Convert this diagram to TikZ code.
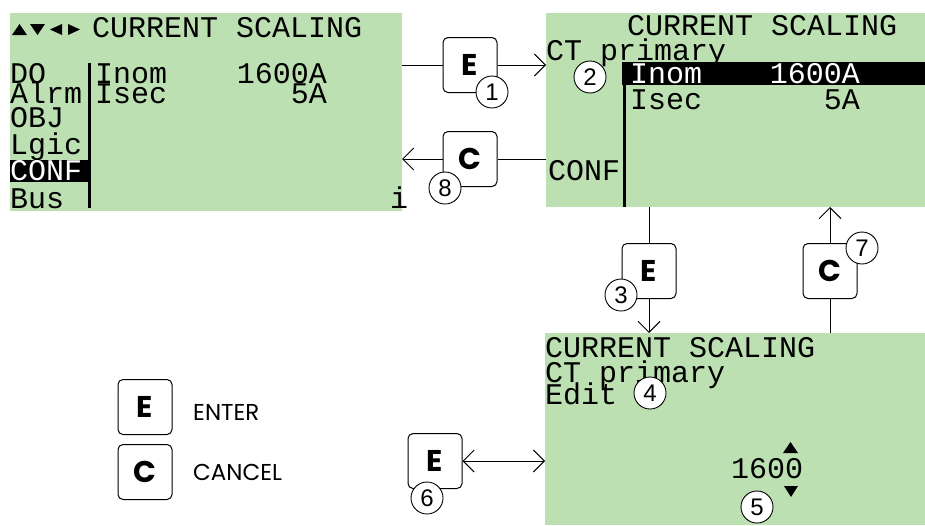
\documentclass[tikz,border=0pt]{standalone}
\usepackage{fontspec}
\usetikzlibrary{arrows.meta}
\newfontfamily\lcd{Liberation Mono}
\newfontfamily\keyfont{Poppins}
\newfontfamily\numfont{Liberation Sans}
\definecolor{lcdgreen}{RGB}{188,224,178}
\begin{document}
\begin{tikzpicture}[x=1pt,y=-1pt,
  screen/.style={fill=lcdgreen, draw=none, anchor=north west, inner sep=0, outer sep=0},
  lcdtxt/.style={font=\lcd\fontsize{30}{30}\selectfont, inner sep=0, anchor=base west},
  lcdtxtr/.style={lcdtxt, anchor=base east},
  keybox/.style={draw, line width=1pt, rounded corners=5pt, minimum width=54pt, minimum height=55pt, inner sep=0, fill=white, font=\keyfont\bfseries\fontsize{30}{30}\selectfont},
  num/.style={circle, draw, fill=white, line width=0.9pt, minimum size=32pt, inner sep=0, font=\numfont\fontsize{24}{24}\selectfont},
  legend/.style={font=\keyfont\fontsize{23}{23}\selectfont, inner sep=0, anchor=west},
  conn/.style={line width=1pt},
  arr/.style={conn, -{Straight Barb[length=11pt,width=22pt]}},
  darr/.style={conn, {Straight Barb[length=11pt,width=22pt]}-{Straight Barb[length=11pt,width=22pt]}},
]
\useasboundingbox (0,0) rectangle (925,525);
\fill[white] (0,0) rectangle (925,525);

% ---------- screen 1 ----------
\node[screen, minimum width=392pt, minimum height=198pt] (s1) at (10,13) {};
\fill (12,35) -- (19.5,24) -- (27,35) -- cycle;
\fill (30,24) -- (45,24) -- (37.5,35) -- cycle;
\fill (62,24) -- (62,35) -- (50,29.5) -- cycle;
\fill (68,24) -- (68,35) -- (80,29.5) -- cycle;
\node[lcdtxt] (s1title) at (92,37) {CURRENT SCALING};
\node[lcdtxt] (s1do) at (10,83) {DO};
\node[lcdtxt] (s1alrm) at (10,103) {Alrm};
\node[lcdtxt] (s1obj) at (10,127) {OBJ};
\node[lcdtxt] (s1lgic) at (10,154) {Lgic};
\fill (10,160) rectangle (88,182);
\node[lcdtxt, text=white] (s1conf) at (10,180) {CONF};
\node[lcdtxt] (s1bus) at (10,208) {Bus};
\draw[line width=3pt] (89,63) -- (89,208);
\node[lcdtxt] (s1inom) at (95,83) {Inom};
\node[lcdtxtr] (s1inomv) at (327,83) {1600A};
\node[lcdtxt] (s1isec) at (95,103) {Isec};
\node[lcdtxtr] (s1isecv) at (327,103) {5A};
\node[lcdtxt] (s1i) at (390,208) {i};

% ---------- screen 2 ----------
\node[screen, minimum width=379pt, minimum height=194pt] (s2) at (546,13) {};
\node[lcdtxt] (s2title) at (627,35) {CURRENT SCALING};
\node[lcdtxt] (s2ct) at (546,60) {CT primary};
\fill (622,62) rectangle (925,85);
\draw[line width=3pt] (624,62) -- (624,207);
\node[lcdtxt, text=white] (s2inom) at (630,83) {Inom};
\node[lcdtxtr, text=white] (s2inomv) at (860,83) {1600A};
\node[lcdtxt] (s2isec) at (630,109) {Isec};
\node[lcdtxtr] (s2isecv) at (860,109) {5A};
\node[lcdtxt] (s2conf) at (548,180) {CONF};

% ---------- screen 3 ----------
\node[screen, minimum width=380pt, minimum height=192pt] (s3) at (545,333) {};
\node[lcdtxt] (s3title) at (545,357) {CURRENT SCALING};
\node[lcdtxt] (s3ct) at (545,382) {CT primary};
\node[lcdtxt] (s3edit) at (545,404) {Edit};
\node[lcdtxt] (s3val) at (731,478) {1600};
\fill (783,453) -- (790.5,442) -- (798,453) -- cycle;
\fill (784,486) -- (798,486) -- (791,497) -- cycle;

% ---------- keys ----------
\node[keybox] (k1) at (470,65) {E};
\node[keybox] (k8) at (470,159) {C};
\node[keybox] (k3) at (649,271) {E};
\node[keybox] (k7) at (830,271) {C};
\node[keybox] (k6) at (435,461) {E};
\node[keybox] (le) at (145,407) {E};
\node[keybox] (lc) at (145,472) {C};
\node[legend] (lenter) at (193,412) {ENTER};
\node[legend] (lcancel) at (193,472) {CANCEL};

% ---------- connectors ----------
\draw[conn] (s1.east |- k1.west) -- (k1.west);
\draw[arr] (k1.east) -- (k1.east -| s2.west);
\draw[conn] (k8.east -| s2.west) -- (k8.east);
\draw[arr] (k8.west) -- (k8.west -| s1.east);
\draw[conn] (k3.north |- s2.south) -- (k3.north);
\draw[arr] (k3.south) -- (k3.south |- s3.north);
\draw[conn] (k7.south |- s3.north) -- (k7.south);
\draw[arr] (k7.north) -- (k7.north |- s2.south);
\draw[darr] (k6.east) -- (k6.east -| s3.west);

% ---------- step numbers ----------
\node[num] (n1) at (492,92) {1};
\node[num] (n2) at (590,77) {2};
\node[num] (n3) at (621,295) {3};
\node[num] (n4) at (650,393) {4};
\node[num] (n5) at (757,507) {5};
\node[num] (n6) at (427,498) {6};
\node[num] (n7) at (862,248) {7};
\node[num] (n8) at (445,188) {8};
\end{tikzpicture}
\end{document}
